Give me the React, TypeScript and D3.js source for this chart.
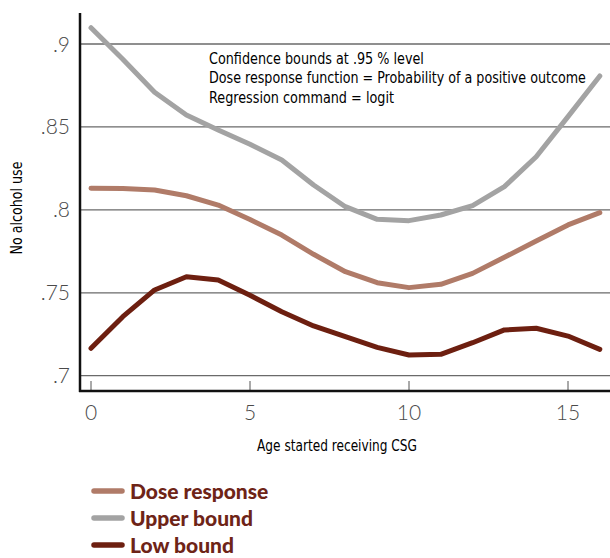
import React, { useLayoutEffect, useRef, useState } from "react";
import * as d3 from "d3";

const ages = [0, 1, 2, 3, 4, 5, 6, 7, 8, 9, 10, 11, 12, 13, 14, 15, 16];
const doseResponse = [0.813, 0.8128, 0.812, 0.8085, 0.8029, 0.7942, 0.7848, 0.7732, 0.7627, 0.7561, 0.7531, 0.7551, 0.7617, 0.7714, 0.7812, 0.7909, 0.7983];
const upperBound = [0.9098, 0.8908, 0.8709, 0.8572, 0.8481, 0.8395, 0.8301, 0.815, 0.8019, 0.7943, 0.7935, 0.7969, 0.8025, 0.814, 0.832, 0.8562, 0.8807];
const lowBound = [0.7165, 0.7356, 0.7517, 0.7597, 0.7577, 0.7485, 0.7386, 0.73, 0.7235, 0.7171, 0.7125, 0.7129, 0.7199, 0.7276, 0.7286, 0.7239, 0.7159];
const yTicks = [0.7, 0.75, 0.8, 0.85, 0.9];
const yTickLabels = [".7", ".75", ".8", ".85", ".9"];
const xTicks = [0, 5, 10, 15];
const seriesNames = ["Dose response", "Upper bound", "Low bound"];
const seriesColors = ["#b07b68", "#a3a3a3", "#6d1f10"];
const notes = [
  "Confidence bounds at .95 % level",
  "Dose response function = Probability of a positive outcome",
  "Regression command = logit",
];
const noteWidths = [215, 377, 185];
const xTitle = "Age started receiving CSG";
const yTitle = "No alcohol use";

function SqueezedText(props: {
  x: number;
  y: number;
  width: number;
  text: string;
  fontSize: number;
  rotate?: boolean;
  anchorMiddle?: boolean;
}) {
  const ref = useRef<SVGTextElement>(null);
  const [sx, setSx] = useState(0.82);
  useLayoutEffect(() => {
    if (ref.current) {
      const w = ref.current.getComputedTextLength();
      if (w > 0) setSx(props.width / w);
    }
  }, [props.width, props.text]);
  const condensed = "'Liberation Sans Narrow', 'DejaVu Sans Condensed', 'Open Sans', sans-serif";
  const tf = props.rotate
    ? `translate(${props.x},${props.y}) rotate(-90) scale(${sx},1)`
    : `translate(${props.x},${props.y}) scale(${sx},1)`;
  return (
    <text
      ref={ref}
      transform={tf}
      textAnchor={props.anchorMiddle ? "middle" : "start"}
      fontFamily={condensed}
      fontWeight={500}
      fontSize={props.fontSize}
      fill="#000"
    >
      {props.text}
    </text>
  );
}

export default function App() {
  const W = 610;
  const H = 558;
  const x = d3.scaleLinear().domain([0, 16]).range([91, 599.8]);
  const y = d3.scaleLinear().domain([0.7, 0.9]).range([375.7, 44]);
  const axisX = 80;
  const axisY = 391;
  const line = d3
    .line<number>()
    .x((_, i) => x(ages[i]))
    .y((d) => y(d));
  const series = [doseResponse, upperBound, lowBound];
  const light = "Lato, 'Open Sans', sans-serif";

  return (
    <svg
      width={W}
      height={H}
      style={{ position: "absolute", left: 0, top: 0, display: "block", background: "#fff" }}
    >
      {yTicks.map((t) => (
        <line key={t} x1={axisX + 1} x2={W} y1={y(t)} y2={y(t)} stroke="#6a6a6a" strokeWidth={1.3} />
      ))}
      {xTicks.map((t) => (
        <line key={t} x1={x(t)} x2={x(t)} y1={axisY - 10} y2={axisY} stroke="#555" strokeWidth={1} />
      ))}
      {series.map((s, i) => (
        <path
          key={i}
          d={line(s) || ""}
          fill="none"
          stroke={seriesColors[i]}
          strokeWidth={5}
          strokeLinejoin="round"
          strokeLinecap="round"
        />
      ))}
      <line x1={axisX} x2={axisX} y1={13} y2={axisY + 1} stroke="#111" strokeWidth={2.5} />
      <line x1={axisX - 1} x2={W} y1={axisY} y2={axisY} stroke="#111" strokeWidth={2.5} />
      {yTicks.map((t, i) => (
        <text
          key={t}
          x={70}
          y={y(t)}
          dy="0.36em"
          textAnchor="end"
          fontFamily={light}
          fontWeight={300}
          fontSize={21}
          fill="#4a4a4a"
        >
          {yTickLabels[i]}
        </text>
      ))}
      {xTicks.map((t) => (
        <text
          key={t}
          x={x(t)}
          y={420}
          textAnchor="middle"
          fontFamily={light}
          fontWeight={300}
          fontSize={21}
          fill="#4a4a4a"
        >
          {t}
        </text>
      ))}
      {notes.map((n, i) => (
        <SqueezedText key={i} x={209} y={64 + i * 19.3} width={noteWidths[i]} text={n} fontSize={16.5} />
      ))}
      <SqueezedText x={257} y={451} width={160} text={xTitle} fontSize={16.5} />
      <SqueezedText x={22} y={208} width={93} text={yTitle} fontSize={15.5} rotate anchorMiddle />
      {seriesNames.map((n, i) => (
        <g key={n}>
          <line
            x1={94}
            x2={122}
            y1={491 + i * 27}
            y2={491 + i * 27}
            stroke={seriesColors[i]}
            strokeWidth={5.5}
            strokeLinecap="round"
          />
          <text
            x={130}
            y={491 + i * 27}
            dy="0.36em"
            fontFamily="Lato, 'Open Sans', sans-serif"
            fontWeight={900}
            fontSize={21}
            fill="#6e2417"
          >
            {n}
          </text>
        </g>
      ))}
    </svg>
  );
}
